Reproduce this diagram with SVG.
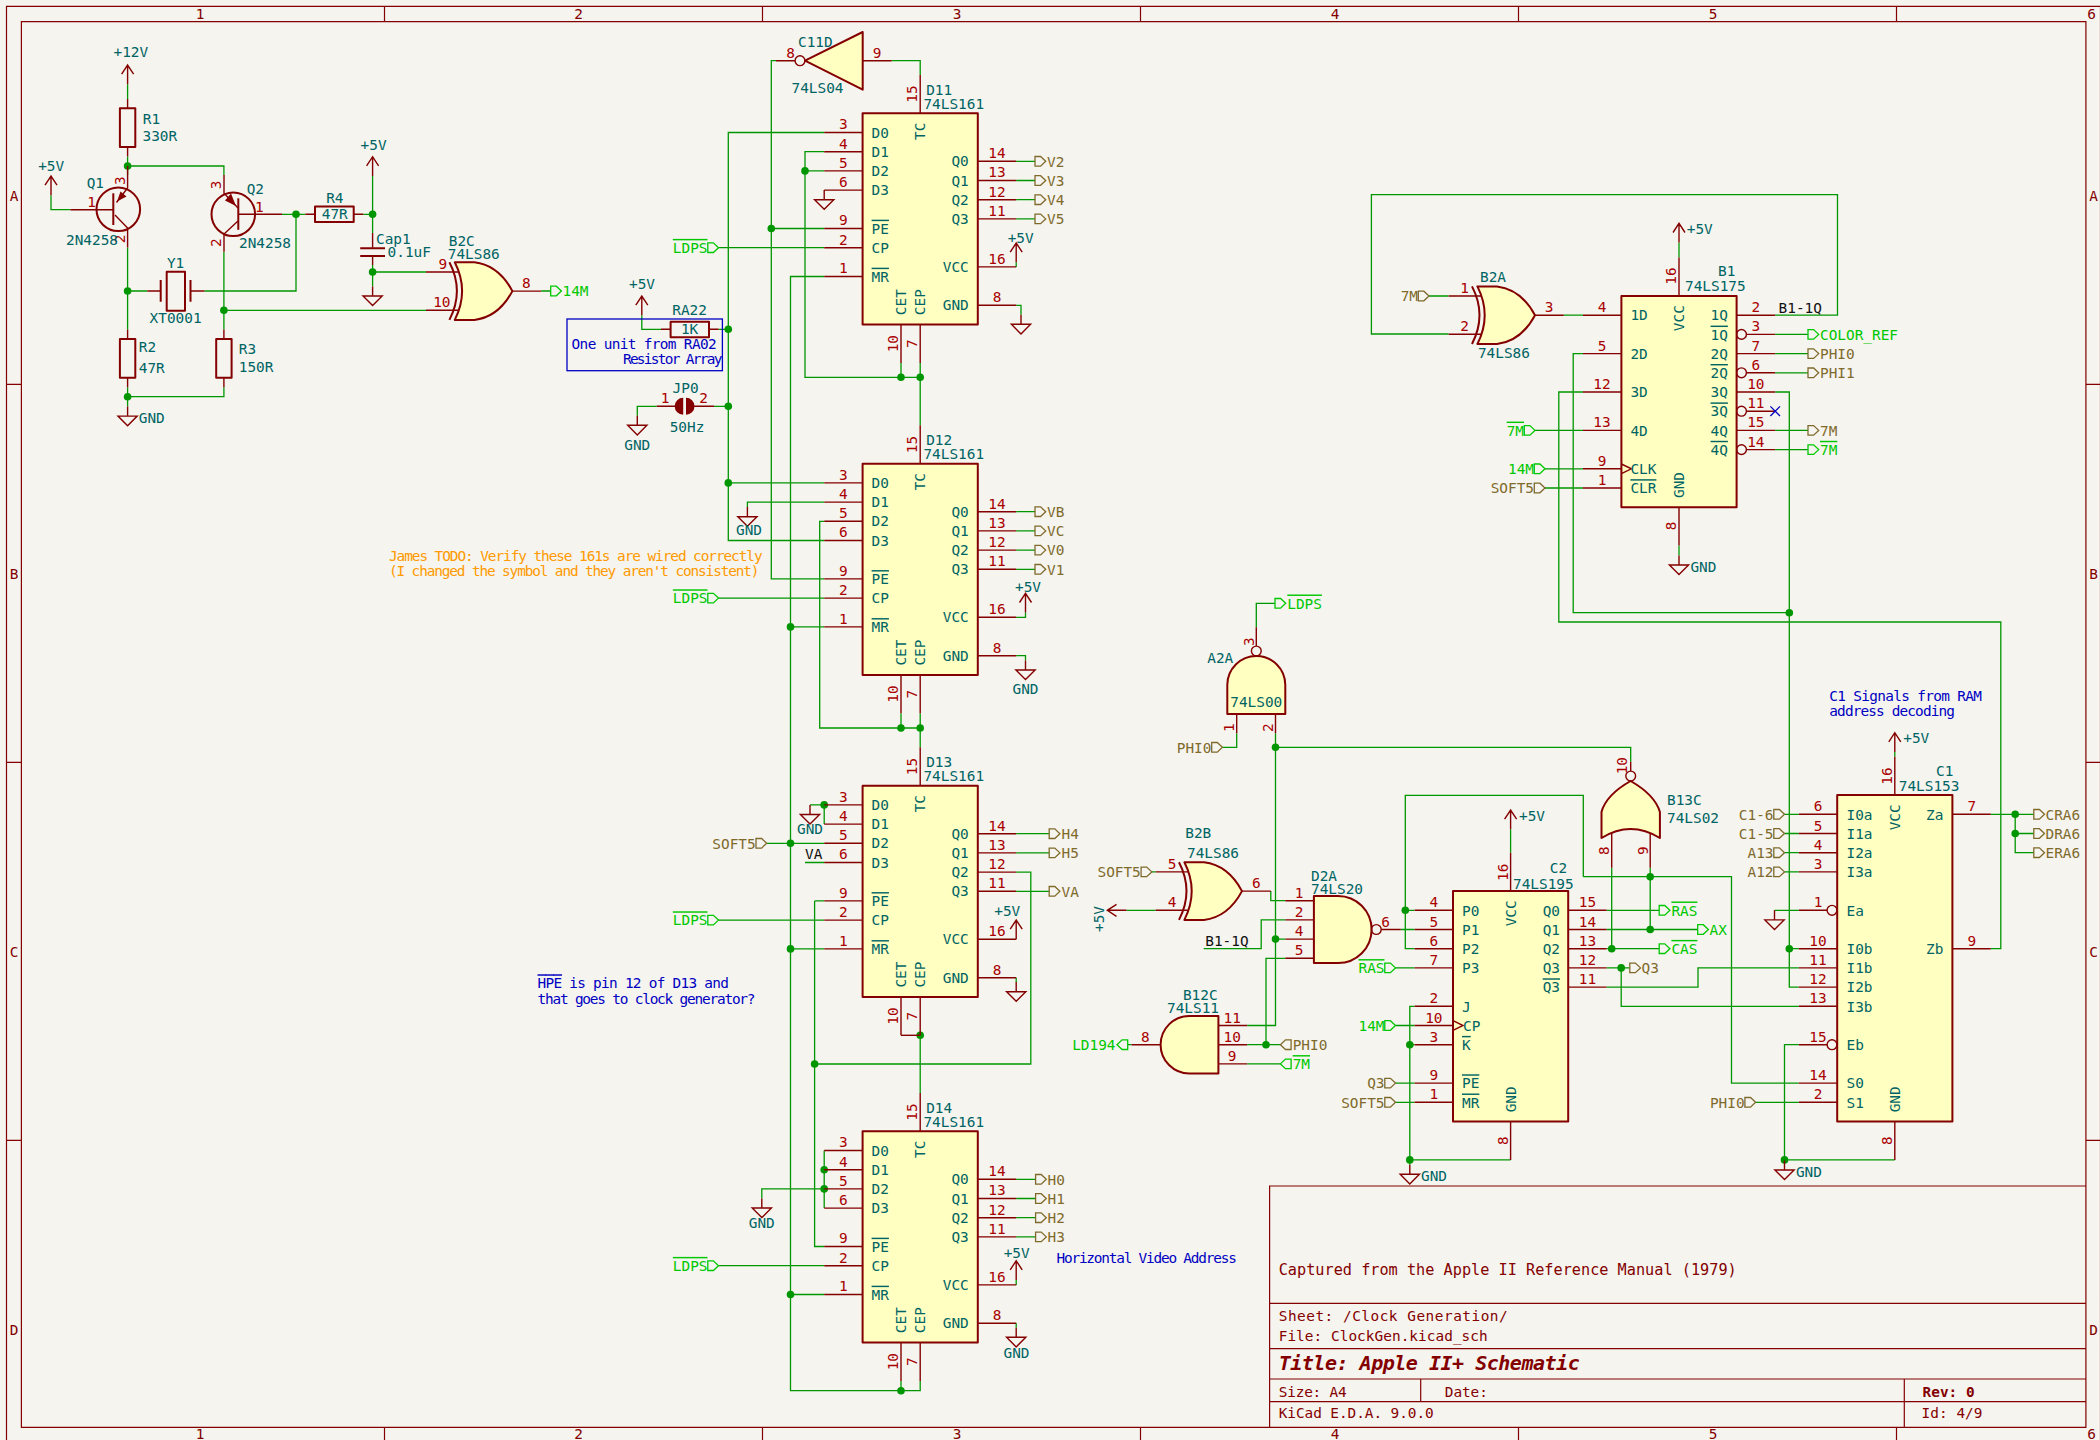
<svg xmlns="http://www.w3.org/2000/svg" xmlns:xlink="http://www.w3.org/1999/xlink" width="2100" height="1440" viewBox="0 0 2100 1440">
<style>
text{font-family:"DejaVu Sans Mono","Liberation Mono",monospace;font-size:14.4px}
.f{fill:none;stroke:#840000;stroke-width:1.2}
.ft{fill:#840000}
.ft2{fill:#840000;font-size:15.2px}
.bd{font-weight:bold}
.w{fill:none;stroke:#009600;stroke-width:1.3}
.p{fill:none;stroke:#840000;stroke-width:1.4}
.b{fill:#ffffc2;stroke:#840000;stroke-width:2;stroke-linejoin:round}
.rb{fill:none;stroke:#840000;stroke-width:2;stroke-linejoin:round}
.l{fill:none;stroke:#840000;stroke-width:2}
.n{fill:#a90000;text-anchor:middle}
.c{fill:#006464}
.m{fill:#006464;text-anchor:middle}
.e{fill:#006464;text-anchor:end}
.s{fill:#006464}
.gt{fill:#00c800}
.gl{fill:none;stroke:#00c800;stroke-width:1.3}
.bt{fill:#7f6a2c}
.bl{fill:none;stroke:#7f6a2c;stroke-width:1.3}
.k{fill:#111}
.note{fill:#0000c2}
.or{fill:#ff9a00}
.o{text-decoration:overline}
</style>
<defs>
<circle id="j" r="3.8" fill="#009600"/>
<path id="gnd" class="p" d="M0,0V9.6M-9.6,9.6H9.6L0,19.2Z"/>
<path id="pw" class="p" d="M0,0V-19.2M-6,-10L0,-19.2L6,-10"/>
<path id="lb" d="M0,-4.8H5.6L10.7,0L5.6,4.8H0Z"/>
<path id="u161p" class="p" d="M-38.4,19.2H0M-38.4,38.4H0M-38.4,57.6H0M-38.4,76.8H0M-38.4,115.2H0M-38.4,134.4H0M-38.4,163.2H0M115.2,48H153.6M115.2,67.2H153.6M115.2,86.4H153.6M115.2,105.6H153.6M115.2,153.6H153.6M115.2,192H153.6M57.6,0V-38.4M38.4,211.2V249.6M57.6,211.2V249.6"/>
<rect id="u161b" class="b" width="115.2" height="211.2"/>
<g id="xor"><path class="b" d="M-57.6,-28.8H-38Q-14,-26 0,0Q-14,26 -38,28.8H-57.6Q-43,0 -57.6,-28.8Z"/><path class="l" d="M-63,-28.8Q-48,0 -63,28.8"/></g>
<path id="res" class="rb" d="M-7.7,-19.35H7.7V19.35H-7.7Z"/>
</defs>
<rect width="2100" height="1440" fill="#f5f4ef"/>
<g id="frame">
<path class="f" d="M6.5,6.3H2100.5V1442H6.5ZM21.4,21.7H2085.9V1427.4H21.4ZM384.5,6.3V21.7M762.5,6.3V21.7M1140.5,6.3V21.7M1518.5,6.3V21.7M1896.5,6.3V21.7M384.5,1427.4V1442M762.5,1427.4V1442M1140.5,1427.4V1442M1518.5,1427.4V1442M1896.5,1427.4V1442M6.5,384.3H21.4M6.5,762.3H21.4M6.5,1140.3H21.4M2085.9,384.3H2100.5M2085.9,762.3H2100.5M2085.9,1140.3H2100.5M1269.6,1427.4V1186H2085.9M1269.6,1303.3H2085.9M1269.6,1348.7H2085.9M1269.6,1379H2085.9M1269.6,1401.7H2085.9M1420.7,1379V1401.7M1904.3,1379V1427.4"/>
<g class="ft" text-anchor="middle">
<text x="200" y="18.6">1</text><text x="578.6" y="18.6">2</text><text x="957" y="18.6">3</text><text x="1335" y="18.6">4</text><text x="1713" y="18.6">5</text><text x="2091.7" y="18.6">6</text>
<text x="200" y="1439">1</text><text x="578.6" y="1439">2</text><text x="957" y="1439">3</text><text x="1335" y="1439">4</text><text x="1713" y="1439">5</text><text x="2091.7" y="1439">6</text>
<text x="14" y="200.5">A</text><text x="14" y="578.5">B</text><text x="14" y="956.5">C</text><text x="14" y="1334.5">D</text>
<text x="2093.5" y="200.5">A</text><text x="2093.5" y="578.5">B</text><text x="2093.5" y="956.5">C</text><text x="2093.5" y="1334.5">D</text>
</g>
<g class="ft">
<text class="ft2" x="1278.7" y="1275" textLength="458">Captured from the Apple II Reference Manual (1979)</text>
<text x="1278.7" y="1320.7" textLength="229">Sheet: /Clock Generation/</text>
<text x="1278.7" y="1341" textLength="209">File: ClockGen.kicad_sch</text>
<text class="bd" style="font-size:20px;font-style:italic" x="1278.7" y="1370" textLength="301">Title: Apple II+ Schematic</text>
<text x="1278.7" y="1396.7" textLength="68">Size: A4</text>
<text x="1444.8" y="1396.7" textLength="43">Date:</text>
<text class="bd" x="1922.6" y="1396.7" textLength="52">Rev: 0</text>
<text x="1278.7" y="1418.3" textLength="155">KiCad E.D.A. 9.0.0</text>
<text x="1921.5" y="1418.3" textLength="61">Id: 4/9</text>
</g>
</g>
<g id="connectors">
<path class="w" d="M127.6,84.2V99M127.6,156.5V175M127.6,166H223.9V175M51,195.2V209.7H70.4M127.6,247.5V329.4M127.6,291H147.3M127.6,387.3V406.5M127.6,396.7H223.9V387.3M223.9,251.7V329.4M204.5,291H296V214.3M282,214.3H305.4M363.3,214.3H372.6V233M372.6,175.9V214.3M372.6,265V286.4M372.6,272H426M223.9,310.3H426M541.2,291H550.7"/>
<path class="w" d="M641.8,315.2V329.3H661M718.6,329.3H728.3M656.7,406.3H637.3V415.7M714,406.3H728.3"/>
<path class="w" d="M824.2,132.5H728.3V540.5H824.2M728.3,482.9H824.2M776,60.7H771.3V578.9H824.2M771.3,228.5H824.2M891.7,60.7H920.2V74.9M824.2,151.7H805V377.3H920.2M805,170.9H824.2M920.2,362.9V425.3M901,362.9V377.3"/>
<path class="w" d="M718.5,247.7H824.2M718.5,598.1H824.2M718.5,920.1H824.2M718.5,1265.7H824.2M824.2,276.5H790.5V1390.7H920.2V1380.9M790.5,626.9H824.2M790.5,948.9H824.2M790.5,1294.5H824.2M766.7,843.3H824.2M901,1380.9V1390.7M824.2,521.3H819.7V728H920.2M901,713.3V728M920.2,713.3V747.3M824.2,502.1H747.4V507.1M824.2,804.9H810M824.2,804.9V824.1M824.2,862.5H805M920.2,1035.3V1092.9M1016.2,872.1H1030.8V1064H814.6M814.6,900.9V1246.5H824.2M814.6,900.9H824.2M824.2,1150.5V1208.1M824.2,1188.9H761.8V1198.4"/>
<path class="w" d="M1016.2,161.3H1035M1016.2,180.5H1035M1016.2,199.7H1035M1016.2,218.9H1035M1016.2,266.9V262.2M1016.2,305.3H1021V314.7M1016.2,511.7H1035M1016.2,530.9H1035M1016.2,550.1H1035M1016.2,569.3H1035M1016.2,617.3H1025.5V612.5M1016.2,655.7H1025.5V660.4M1016.2,833.7H1049.2M1016.2,852.9H1049.2M1016.2,891.3H1049.2M1016.2,977.7V982.1M1016.2,1179.3H1035.6M1016.2,1198.5H1035.6M1016.2,1217.7H1035.6M1016.2,1236.9H1035.6M1016.2,1284.9V1279.9M1016.2,1323.3V1327.7"/>
<path class="w" d="M1775.2,315.2H1837.5V194.7H1371.4V334H1448.6M1563.8,315.2H1583M1429,296H1448.6M1535,430.4H1583M1545,468.8H1583M1545,488H1583M1583,353.6H1573.2V612.7H1789.3M1583,392H1558.8V622H2000.8V948.7H1990.8M1775.2,392H1789.3V987.1H1798.8M1789.3,948.7H1798.8M1775.2,334.4H1808M1775.2,353.6H1808M1775.2,372.8H1808M1775.2,430.4H1808M1775.2,449.6H1808M1679,242.5V257.6M1679,545.6V555.4"/>
<path class="w" d="M1256.3,627.3V603.3H1275M1236.7,733.2V747.3H1222.4M1275.5,733.2V1025.5H1247.2M1275.5,747.3H1630.7V761.7M1275.5,939.1H1285.3M1285.3,900.7H1270.8V891.1M1285.3,919.9H1261.2V948.7H1203.7M1285.3,958.3H1266V1044.7M1151.8,871.9H1155.6M1126.5,910.3H1155.6M1400.8,929.5H1414.6M1247.2,1044.7H1280.4M1247.2,1063.9H1280.4M1127.7,1044.7H1131.6"/>
<path class="w" d="M1395.5,967.9H1414.6M1395.5,1025.5H1414.6M1395.5,1083.1H1414.6M1395.5,1102.3H1414.6M1650.2,867.7V929.5M1583.3,876.7H1731.5V1083.1H1798.8M1583.3,876.7V795.3H1405.3V948.7H1414.6M1405.3,910.3H1414.6M1611.7,867.7V948.7M1606.6,910.3H1659.2M1606.6,929.5H1697.7M1606.6,948.7H1659.2M1606.6,967.9H1629.8M1621.2,967.9V1006.3H1798.8M1606.6,987.1H1698V967.9H1798.8M1510.6,1159.9H1409.8V1006.3H1414.6M1409.8,1044.7H1414.6M1409.8,1159.9V1164.7M1510.6,829.2V852.7"/>
<path class="w" d="M1894.8,1159.9H1784.5V1044.7H1798.8M1784.5,1159.9V1160.4M1798.8,910.3H1774.5M1990.8,814.3H2033.8M2015.2,814.3V852.7H2033.8M2015.2,833.5H2033.8M1784.5,814.3H1798.8M1784.5,833.5H1798.8M1784.5,852.7H1798.8M1784.5,871.9H1798.8M1755.6,1102.3H1798.8M1894.8,751.9V756.7"/>
<g id="junctions">
<use href="#j" x="127.6" y="166"/><use href="#j" x="127.6" y="291"/><use href="#j" x="127.6" y="396.7"/><use href="#j" x="223.9" y="310.3"/><use href="#j" x="296" y="214.3"/><use href="#j" x="372.6" y="214.3"/><use href="#j" x="372.6" y="272"/><use href="#j" x="728.3" y="329.3"/><use href="#j" x="728.3" y="406.3"/><use href="#j" x="728.3" y="482.9"/><use href="#j" x="771.3" y="228.5"/><use href="#j" x="805" y="170.9"/><use href="#j" x="901" y="377.3"/><use href="#j" x="920.2" y="377.3"/><use href="#j" x="901" y="728"/><use href="#j" x="920.2" y="728"/><use href="#j" x="790.5" y="626.9"/><use href="#j" x="790.5" y="843.3"/><use href="#j" x="790.5" y="948.9"/><use href="#j" x="790.5" y="1294.5"/><use href="#j" x="824.2" y="804.9"/><use href="#j" x="920.2" y="1035.3"/><use href="#j" x="814.6" y="1064"/><use href="#j" x="824.2" y="1169.7"/><use href="#j" x="824.2" y="1188.9"/><use href="#j" x="901" y="1390.7"/>
<use href="#j" x="1789.3" y="612.7"/><use href="#j" x="1789.3" y="948.7"/><use href="#j" x="1275.5" y="747.3"/><use href="#j" x="1275.5" y="939.1"/><use href="#j" x="1266" y="1044.7"/><use href="#j" x="1405.3" y="910.3"/><use href="#j" x="1650.2" y="876.7"/><use href="#j" x="1650.2" y="929.5"/><use href="#j" x="1611.7" y="948.7"/><use href="#j" x="1621.2" y="967.9"/><use href="#j" x="1409.8" y="1044.7"/><use href="#j" x="1409.8" y="1159.9"/><use href="#j" x="1784.5" y="1159.9"/><use href="#j" x="2015.2" y="814.3"/><use href="#j" x="2015.2" y="833.5"/>
</g>
</g>
<g id="R1"><path class="p" d="M127.6,99V108.3M127.6,147V156.5"/><use href="#res" x="127.6" y="127.65"/><text class="c" x="142.8" y="123.7">R1</text><text class="c" x="142.5" y="141.3">330R</text></g>
<g id="R2"><path class="p" d="M127.6,329.4V339M127.6,377.7V387.3"/><use href="#res" x="127.6" y="358.35"/><text class="c" x="138.8" y="352">R2</text><text class="c" x="138.8" y="372.7">47R</text></g>
<g id="R3"><path class="p" d="M223.9,329.4V339M223.9,377.7V387.3"/><use href="#res" x="223.9" y="358.35"/><text class="c" x="238.8" y="354">R3</text><text class="c" x="238.8" y="371.7">150R</text></g>
<g id="R4"><path class="p" d="M305.4,214.3H315M353.7,214.3H363.3"/><path class="rb" d="M315,206.5H353.7V222.1H315Z"/><text class="m" x="334.8" y="203.3">R4</text><text class="m" x="334.8" y="219.3">47R</text></g>
<g id="Q1"><circle class="l" cx="118.3" cy="209.3" r="21.8"/><path class="p" d="M70.4,209.7H113.3M116.5,202.5L127.6,188V166M115,215L127.6,228V247.5"/><path class="l" d="M113.3,193.3V225"/><path fill="#840000" d="M117,201.5L120.5,191.5L126.5,196.5Z"/><text class="n" x="91.7" y="206.7">1</text><text class="n" transform="translate(125,180.7) rotate(-90)">3</text><text class="n" transform="translate(124.5,239) rotate(-90)">2</text><text class="c" x="86.7" y="187.7">Q1</text><text class="c" x="66" y="245">2N4258</text></g>
<g id="Q2"><circle class="l" cx="233.3" cy="214.3" r="21.8"/><path class="p" d="M282,214.3H238.3M224,175V193.3L238,208M224,251.7V234L238,221"/><path class="l" d="M238.3,198.3V229.8"/><path fill="#840000" d="M236,206L225,200.5L231,193.5Z"/><text class="n" x="259.3" y="211.7">1</text><text class="n" transform="translate(221,185) rotate(-90)">3</text><text class="n" transform="translate(221,242.7) rotate(-90)">2</text><text class="c" x="246.7" y="194.3">Q2</text><text class="c" x="239" y="247.7">2N4258</text></g>
<g id="Y1"><path class="p" d="M147.3,291H160.7M190.5,291H204.5"/><rect class="rb" x="166.7" y="271.7" width="18.3" height="39"/><path class="l" d="M160.7,280V301.7M190.5,280V301.7"/><text class="m" x="175.6" y="267.7">Y1</text><text class="m" x="175.6" y="322.7">XT0001</text></g>
<g id="Cap1"><path class="p" d="M372.6,233V248.3M372.6,256V265"/><path class="l" d="M360.2,248.3H385M360.2,256H385"/><text class="c" x="376" y="244.3">Cap1</text><text class="c" x="387.6" y="257.3">0.1uF</text></g>
<g id="pwr-left">
<use href="#pw" x="127.6" y="84.2"/><text class="m" x="130.8" y="56.7">+12V</text>
<use href="#pw" x="51" y="195.2"/><text class="m" x="51.2" y="170.7">+5V</text>
<use href="#pw" x="372.6" y="175.9"/><text class="m" x="373.6" y="150">+5V</text>
<use href="#pw" x="641.8" y="315.2"/><text class="m" x="642" y="289">+5V</text>
<use href="#gnd" x="127.6" y="406.5"/><text class="c" x="138.8" y="422.7">GND</text>
<use href="#gnd" x="372.6" y="286.4"/>
<use href="#gnd" x="637.3" y="415.7"/><text class="m" x="637.3" y="450">GND</text>
</g>
<g id="B2C"><path class="p" d="M426,272H458M426,310.3H458M512.4,291.1H541.2"/><use href="#xor" x="512.4" y="291.1"/><text class="n" x="442.8" y="269">9</text><text class="n" x="441.8" y="307.3">10</text><text class="n" x="526.4" y="288">8</text><text class="c" x="448.8" y="245.7">B2C</text><text class="c" x="447.8" y="259.3">74LS86</text></g>
<g id="RA22"><path class="p" d="M661,329.3H670.6M709,329.3H718.6"/><path class="rb" d="M670.6,321.7H709V337.3H670.6Z"/><text class="m" x="689.6" y="315">RA22</text><text class="m" x="689.6" y="334">1K</text></g>
<g id="note-ra02"><rect x="567" y="319" width="155.4" height="51.7" fill="none" stroke="#0000c2" stroke-width="1.3"/><text class="note" x="571.6" y="349" textLength="145">One unit from RA02</text><text class="note" x="622.9" y="364.3" textLength="99.5">Resistor Array</text></g>
<g id="JP0"><path class="p" d="M656.7,406.3H675M694,406.3H714"/><path fill="#840000" d="M683.2,397.8A8.5,8.5 0 0 0 683.2,414.8ZM686,397.8A8.5,8.5 0 0 1 686,414.8Z"/><text class="n" x="665" y="403.3">1</text><text class="n" x="703.5" y="403.3">2</text><text class="m" x="685.6" y="393.3">JP0</text><text class="m" x="687" y="432.3">50Hz</text></g>
<g id="C11D"><path class="p" d="M776,60.7H795M862.7,60.7H891.7"/><path class="b" d="M862.7,32V89.7L805,60.7Z"/><circle class="p" cx="800" cy="60.7" r="4.9" fill="#f5f4ef"/><text class="n" x="790.5" y="58">8</text><text class="n" x="877" y="58">9</text><text class="c" x="798" y="47">C11D</text><text class="c" x="791.5" y="93">74LS04</text></g>
<g id="D11" transform="translate(862.6,113.3)"><use href="#u161p"/><use href="#u161b"/><text class="c" x="63.6" y="-18.6">D11</text><text class="c" x="60.8" y="-4.3">74LS161</text>
<text class="s" x="9" y="24.4">D0</text><text class="s" x="9" y="43.6">D1</text><text class="s" x="9" y="62.8">D2</text><text class="s" x="9" y="82">D3</text><text class="s o" x="9" y="120.4">PE</text><text class="s" x="9" y="139.6">CP</text><text class="s o" x="9" y="168.4">MR</text>
<text class="e" x="106.2" y="53.2">Q0</text><text class="e" x="106.2" y="72.4">Q1</text><text class="e" x="106.2" y="91.6">Q2</text><text class="e" x="106.2" y="110.8">Q3</text><text class="e" x="106.2" y="158.8">VCC</text><text class="e" x="106.2" y="197.2">GND</text>
<text class="e" transform="translate(62.8,9.3) rotate(-90)">TC</text><text class="s" transform="translate(43.6,201.9) rotate(-90)">CET</text><text class="s" transform="translate(62.8,201.9) rotate(-90)">CEP</text>
<text class="n" x="-19.2" y="16.2">3</text><text class="n" x="-19.2" y="35.4">4</text><text class="n" x="-19.2" y="54.6">5</text><text class="n" x="-19.2" y="73.8">6</text><text class="n" x="-19.2" y="112.2">9</text><text class="n" x="-19.2" y="131.4">2</text><text class="n" x="-19.2" y="160.2">1</text>
<text class="n" x="134.4" y="45">14</text><text class="n" x="134.4" y="64.2">13</text><text class="n" x="134.4" y="83.4">12</text><text class="n" x="134.4" y="102.6">11</text><text class="n" x="134.4" y="150.6">16</text><text class="n" x="134.4" y="189">8</text>
<text class="n" transform="translate(54.6,-19.2) rotate(-90)">15</text><text class="n" transform="translate(35.4,230.4) rotate(-90)">10</text><text class="n" transform="translate(54.6,230.4) rotate(-90)">7</text></g>
<g id="D12" transform="translate(862.6,463.7)"><use href="#u161p"/><use href="#u161b"/><text class="c" x="63.6" y="-18.6">D12</text><text class="c" x="60.8" y="-4.3">74LS161</text>
<text class="s" x="9" y="24.4">D0</text><text class="s" x="9" y="43.6">D1</text><text class="s" x="9" y="62.8">D2</text><text class="s" x="9" y="82">D3</text><text class="s o" x="9" y="120.4">PE</text><text class="s" x="9" y="139.6">CP</text><text class="s o" x="9" y="168.4">MR</text>
<text class="e" x="106.2" y="53.2">Q0</text><text class="e" x="106.2" y="72.4">Q1</text><text class="e" x="106.2" y="91.6">Q2</text><text class="e" x="106.2" y="110.8">Q3</text><text class="e" x="106.2" y="158.8">VCC</text><text class="e" x="106.2" y="197.2">GND</text>
<text class="e" transform="translate(62.8,9.3) rotate(-90)">TC</text><text class="s" transform="translate(43.6,201.9) rotate(-90)">CET</text><text class="s" transform="translate(62.8,201.9) rotate(-90)">CEP</text>
<text class="n" x="-19.2" y="16.2">3</text><text class="n" x="-19.2" y="35.4">4</text><text class="n" x="-19.2" y="54.6">5</text><text class="n" x="-19.2" y="73.8">6</text><text class="n" x="-19.2" y="112.2">9</text><text class="n" x="-19.2" y="131.4">2</text><text class="n" x="-19.2" y="160.2">1</text>
<text class="n" x="134.4" y="45">14</text><text class="n" x="134.4" y="64.2">13</text><text class="n" x="134.4" y="83.4">12</text><text class="n" x="134.4" y="102.6">11</text><text class="n" x="134.4" y="150.6">16</text><text class="n" x="134.4" y="189">8</text>
<text class="n" transform="translate(54.6,-19.2) rotate(-90)">15</text><text class="n" transform="translate(35.4,230.4) rotate(-90)">10</text><text class="n" transform="translate(54.6,230.4) rotate(-90)">7</text></g>
<g id="D13" transform="translate(862.6,785.7)"><use href="#u161p"/><use href="#u161b"/><text class="c" x="63.6" y="-18.6">D13</text><text class="c" x="60.8" y="-4.3">74LS161</text>
<text class="s" x="9" y="24.4">D0</text><text class="s" x="9" y="43.6">D1</text><text class="s" x="9" y="62.8">D2</text><text class="s" x="9" y="82">D3</text><text class="s o" x="9" y="120.4">PE</text><text class="s" x="9" y="139.6">CP</text><text class="s o" x="9" y="168.4">MR</text>
<text class="e" x="106.2" y="53.2">Q0</text><text class="e" x="106.2" y="72.4">Q1</text><text class="e" x="106.2" y="91.6">Q2</text><text class="e" x="106.2" y="110.8">Q3</text><text class="e" x="106.2" y="158.8">VCC</text><text class="e" x="106.2" y="197.2">GND</text>
<text class="e" transform="translate(62.8,9.3) rotate(-90)">TC</text><text class="s" transform="translate(43.6,201.9) rotate(-90)">CET</text><text class="s" transform="translate(62.8,201.9) rotate(-90)">CEP</text>
<text class="n" x="-19.2" y="16.2">3</text><text class="n" x="-19.2" y="35.4">4</text><text class="n" x="-19.2" y="54.6">5</text><text class="n" x="-19.2" y="73.8">6</text><text class="n" x="-19.2" y="112.2">9</text><text class="n" x="-19.2" y="131.4">2</text><text class="n" x="-19.2" y="160.2">1</text>
<text class="n" x="134.4" y="45">14</text><text class="n" x="134.4" y="64.2">13</text><text class="n" x="134.4" y="83.4">12</text><text class="n" x="134.4" y="102.6">11</text><text class="n" x="134.4" y="150.6">16</text><text class="n" x="134.4" y="189">8</text>
<text class="n" transform="translate(54.6,-19.2) rotate(-90)">15</text><text class="n" transform="translate(35.4,230.4) rotate(-90)">10</text><text class="n" transform="translate(54.6,230.4) rotate(-90)">7</text><path class="p" d="M38.4,249.6H57.6"/></g>
<g id="D14" transform="translate(862.6,1131.3)"><use href="#u161p"/><use href="#u161b"/><text class="c" x="63.6" y="-18.6">D14</text><text class="c" x="60.8" y="-4.3">74LS161</text>
<text class="s" x="9" y="24.4">D0</text><text class="s" x="9" y="43.6">D1</text><text class="s" x="9" y="62.8">D2</text><text class="s" x="9" y="82">D3</text><text class="s o" x="9" y="120.4">PE</text><text class="s" x="9" y="139.6">CP</text><text class="s o" x="9" y="168.4">MR</text>
<text class="e" x="106.2" y="53.2">Q0</text><text class="e" x="106.2" y="72.4">Q1</text><text class="e" x="106.2" y="91.6">Q2</text><text class="e" x="106.2" y="110.8">Q3</text><text class="e" x="106.2" y="158.8">VCC</text><text class="e" x="106.2" y="197.2">GND</text>
<text class="e" transform="translate(62.8,9.3) rotate(-90)">TC</text><text class="s" transform="translate(43.6,201.9) rotate(-90)">CET</text><text class="s" transform="translate(62.8,201.9) rotate(-90)">CEP</text>
<text class="n" x="-19.2" y="16.2">3</text><text class="n" x="-19.2" y="35.4">4</text><text class="n" x="-19.2" y="54.6">5</text><text class="n" x="-19.2" y="73.8">6</text><text class="n" x="-19.2" y="112.2">9</text><text class="n" x="-19.2" y="131.4">2</text><text class="n" x="-19.2" y="160.2">1</text>
<text class="n" x="134.4" y="45">14</text><text class="n" x="134.4" y="64.2">13</text><text class="n" x="134.4" y="83.4">12</text><text class="n" x="134.4" y="102.6">11</text><text class="n" x="134.4" y="150.6">16</text><text class="n" x="134.4" y="189">8</text>
<text class="n" transform="translate(54.6,-19.2) rotate(-90)">15</text><text class="n" transform="translate(35.4,230.4) rotate(-90)">10</text><text class="n" transform="translate(54.6,230.4) rotate(-90)">7</text></g>
<g id="pwr-161">
<use href="#gnd" x="824.2" y="190.1"/>
<use href="#pw" x="1016.2" y="262.2"/><text class="m" x="1020.7" y="242.5">+5V</text><use href="#gnd" x="1021" y="314.7"/>
<use href="#gnd" x="747.4" y="507.1"/><text class="m" x="749" y="534.7">GND</text>
<use href="#pw" x="1025.5" y="612.5"/><text class="m" x="1028" y="592.3">+5V</text><use href="#gnd" x="1025.5" y="660.4"/><text class="m" x="1025.5" y="694">GND</text>
<use href="#gnd" x="810" y="804.9"/><text class="m" x="810" y="834.3">GND</text>
<use href="#pw" x="1016.2" y="939.2"/><text class="m" x="1007.3" y="915.7">+5V</text><use href="#gnd" x="1016.2" y="982.1"/>
<use href="#gnd" x="761.8" y="1198.4"/><text class="m" x="761.8" y="1228">GND</text>
<use href="#pw" x="1016.2" y="1279.9"/><text class="m" x="1016.7" y="1258">+5V</text><use href="#gnd" x="1016.2" y="1327.7"/><text class="m" x="1016.5" y="1358">GND</text>
</g>
<g id="label-VA-local"><text class="k" x="805" y="859.3">VA</text></g>
<g id="B2A"><path class="p" d="M1448.6,296H1481M1448.6,334.2H1481M1535,315.2H1563.8"/><use href="#xor" x="1535" y="315.2"/><text class="n" x="1464.6" y="293">1</text><text class="n" x="1464.6" y="331">2</text><text class="n" x="1549" y="312.2">3</text><text class="c" x="1480" y="281.7">B2A</text><text class="c" x="1477.9" y="358.3">74LS86</text></g>
<g id="B1"><path class="p" d="M1583,315.2H1621.4M1583,353.6H1621.4M1583,392H1621.4M1583,430.4H1621.4M1583,468.8H1621.4M1583,488H1621.4M1736.6,315.2H1775.2M1746.4,334.4H1775.2M1736.6,353.6H1775.2M1746.4,372.8H1775.2M1736.6,392H1775.2M1746.4,411.2H1775.2M1736.6,430.4H1775.2M1746.4,449.6H1775.2M1679,296V257.6M1679,507.2V545.6"/><rect class="b" x="1621.4" y="296" width="115.2" height="211.2"/><path class="p" d="M1621.4,464L1631.4,468.8L1621.4,473.6"/>
<circle class="p" cx="1741.5" cy="334.4" r="4.9"/><circle class="p" cx="1741.5" cy="372.8" r="4.9"/><circle class="p" cx="1741.5" cy="411.2" r="4.9"/><circle class="p" cx="1741.5" cy="449.6" r="4.9"/>
<text class="c" x="1718" y="276">B1</text><text class="c" x="1685" y="291">74LS175</text>
<text class="s" x="1630.4" y="320.4">1D</text><text class="s" x="1630.4" y="358.8">2D</text><text class="s" x="1630.4" y="397.2">3D</text><text class="s" x="1630.4" y="435.6">4D</text><text class="s" x="1630.4" y="474">CLK</text><text class="s o" x="1630.4" y="493.2">CLR</text>
<text class="e" x="1727.9" y="320.4">1Q</text><text class="e o" x="1727.9" y="339.6">1Q</text><text class="e" x="1727.9" y="358.8">2Q</text><text class="e o" x="1727.9" y="378">2Q</text><text class="e" x="1727.9" y="397.2">3Q</text><text class="e o" x="1727.9" y="416.4">3Q</text><text class="e" x="1727.9" y="435.6">4Q</text><text class="e o" x="1727.9" y="454.8">4Q</text>
<text class="e" transform="translate(1684,305.2) rotate(-90)">VCC</text><text class="s" transform="translate(1684,498) rotate(-90)">GND</text>
<text class="n" x="1602" y="312.2">4</text><text class="n" x="1602" y="350.6">5</text><text class="n" x="1602" y="389">12</text><text class="n" x="1602" y="427.4">13</text><text class="n" x="1602" y="465.8">9</text><text class="n" x="1602" y="485">1</text>
<text class="n" x="1755.8" y="312.2">2</text><text class="n" x="1755.8" y="331.4">3</text><text class="n" x="1755.8" y="350.6">7</text><text class="n" x="1755.8" y="369.8">6</text><text class="n" x="1755.8" y="389">10</text><text class="n" x="1755.8" y="408.2">11</text><text class="n" x="1755.8" y="427.4">15</text><text class="n" x="1755.8" y="446.6">14</text>
<text class="n" transform="translate(1675.7,276) rotate(-90)">16</text><text class="n" transform="translate(1675.7,526) rotate(-90)">8</text>
<use href="#pw" x="1679" y="242.5"/><text class="c" x="1686.8" y="234.3">+5V</text><use href="#gnd" x="1679" y="555.4"/><text class="c" x="1690.4" y="571.7">GND</text>
<path fill="none" stroke="#0000c2" stroke-width="1.3" d="M1770.4,406.4L1780,416M1770.4,416L1780,406.4"/><text class="k" x="1778.6" y="312.7">B1-1Q</text></g>
<g id="A2A"><path class="p" d="M1256.3,646V627.3M1236.7,714V733.2M1275.5,714V733.2"/><path class="b" d="M1227.3,714H1285.3V685A29,29 0 0 0 1227.3,685Z"/><circle class="p" cx="1256.3" cy="651" r="4.9" fill="#f5f4ef"/><text class="n" transform="translate(1253.6,641.7) rotate(-90)">3</text><text class="n" transform="translate(1234.4,727.7) rotate(-90)">1</text><text class="n" transform="translate(1273,727.7) rotate(-90)">2</text><text class="c" x="1207.3" y="662.7">A2A</text><text class="m" x="1256.3" y="706.7">74LS00</text></g>
<g id="B13C"><path class="p" d="M1630.7,761.7V771.2M1611.7,826V867.7M1650.2,826V867.7"/><path class="b" d="M1601.5,838Q1630.6,820 1659.9,838V812Q1655,795 1630.6,781Q1606,795 1601.5,812Z"/><circle class="p" cx="1630.7" cy="776" r="4.9" fill="#f5f4ef"/><text class="n" transform="translate(1627.4,765.7) rotate(-90)">10</text><text class="n" transform="translate(1609,850.7) rotate(-90)">8</text><text class="n" transform="translate(1647.9,850.7) rotate(-90)">9</text><text class="c" x="1667" y="805">B13C</text><text class="c" x="1667" y="823">74LS02</text></g>
<g id="B2B"><path class="p" d="M1155.6,871.9H1188M1155.6,910.3H1188M1242,891.1H1270.8"/><use href="#xor" x="1242" y="891.1"/><text class="n" x="1172.2" y="868.9">5</text><text class="n" x="1172.2" y="907.3">4</text><text class="n" x="1256.3" y="888.1">6</text><text class="c" x="1185.3" y="838.3">B2B</text><text class="c" x="1187" y="857.7">74LS86</text><use href="#pw" transform="translate(1126.5,910.3) rotate(-90)"/><text class="m" transform="translate(1103.8,919) rotate(-90)">+5V</text></g>
<g id="D2A"><path class="p" d="M1285.3,900.7H1313.9M1285.3,919.9H1313.9M1285.3,939.1H1313.9M1285.3,958.3H1313.9M1381.2,929.5H1400.8"/><path class="b" d="M1313.9,895.9H1338A33.6,33.6 0 0 1 1338,963.1H1313.9Z"/><circle class="p" cx="1376.3" cy="929.5" r="4.9" fill="#f5f4ef"/><text class="n" x="1299.2" y="897.7">1</text><text class="n" x="1299.2" y="916.9">2</text><text class="n" x="1299.2" y="936.1">4</text><text class="n" x="1299.2" y="955.3">5</text><text class="n" x="1385.7" y="926.5">6</text><text class="c" x="1311" y="880.7">D2A</text><text class="c" x="1311" y="894">74LS20</text></g>
<g id="B12C"><path class="p" d="M1218.4,1025.5H1247.2M1218.4,1044.7H1247.2M1218.4,1063.9H1247.2M1160.4,1044.7H1131.6"/><path class="b" d="M1218.4,1015.9H1189.4A28.8,28.8 0 0 0 1189.4,1073.5H1218.4Z"/><text class="n" x="1232.2" y="1022.5">11</text><text class="n" x="1232.2" y="1041.7">10</text><text class="n" x="1232.2" y="1060.9">9</text><text class="n" x="1145.3" y="1041.7">8</text><text class="c" x="1182.9" y="1000">B12C</text><text class="c" x="1167" y="1013.3">74LS11</text></g>
<g id="k-B1Q"><text class="k" x="1205.3" y="946">B1-1Q</text></g>
<g id="C2"><path class="p" d="M1414.6,910.3H1453M1414.6,929.5H1453M1414.6,948.7H1453M1414.6,967.9H1453M1414.6,1006.3H1453M1414.6,1025.5H1453M1414.6,1044.7H1453M1414.6,1083.1H1453M1414.6,1102.3H1453M1568.2,910.3H1606.6M1568.2,929.5H1606.6M1568.2,948.7H1606.6M1568.2,967.9H1606.6M1568.2,987.1H1606.6M1510.6,891.1V852.7M1510.6,1121.5V1159.9"/><rect class="b" x="1453" y="891.1" width="115.2" height="230.4"/><path class="p" d="M1453,1020.7L1463,1025.5L1453,1030.3"/>
<text class="c" x="1549.8" y="873.3">C2</text><text class="c" x="1513" y="888.7">74LS195</text>
<text class="s" x="1462" y="915.5">P0</text><text class="s" x="1462" y="934.7">P1</text><text class="s" x="1462" y="953.9">P2</text><text class="s" x="1462" y="973.1">P3</text><text class="s" x="1462" y="1011.5">J</text><text class="s" x="1463" y="1030.7">CP</text><text class="s o" x="1462" y="1049.9">K</text><text class="s o" x="1462" y="1088.3">PE</text><text class="s o" x="1462" y="1107.5">MR</text>
<text class="e" x="1560" y="915.5">Q0</text><text class="e" x="1560" y="934.7">Q1</text><text class="e" x="1560" y="953.9">Q2</text><text class="e" x="1560" y="973.1">Q3</text><text class="e o" x="1560" y="992.3">Q3</text>
<text class="e" transform="translate(1515.6,900.3) rotate(-90)">VCC</text><text class="s" transform="translate(1515.6,1112.3) rotate(-90)">GND</text>
<text class="n" x="1433.8" y="907.3">4</text><text class="n" x="1433.8" y="926.5">5</text><text class="n" x="1433.8" y="945.7">6</text><text class="n" x="1433.8" y="964.9">7</text><text class="n" x="1433.8" y="1003.3">2</text><text class="n" x="1433.8" y="1022.5">10</text><text class="n" x="1433.8" y="1041.7">3</text><text class="n" x="1433.8" y="1080.1">9</text><text class="n" x="1433.8" y="1099.3">1</text>
<text class="n" x="1587.4" y="907.3">15</text><text class="n" x="1587.4" y="926.5">14</text><text class="n" x="1587.4" y="945.7">13</text><text class="n" x="1587.4" y="964.9">12</text><text class="n" x="1587.4" y="984.1">11</text>
<text class="n" transform="translate(1507.9,872.3) rotate(-90)">16</text><text class="n" transform="translate(1507.9,1140.7) rotate(-90)">8</text>
<use href="#pw" x="1510.6" y="829.2"/><text class="c" x="1519" y="820.7">+5V</text><use href="#gnd" x="1409.8" y="1164.7"/><text class="c" x="1421" y="1181.3">GND</text></g>
<g id="C1"><path class="p" d="M1798.8,814.3H1837.2M1798.8,833.5H1837.2M1798.8,852.7H1837.2M1798.8,871.9H1837.2M1798.8,910.3H1827M1798.8,948.7H1837.2M1798.8,967.9H1837.2M1798.8,987.1H1837.2M1798.8,1006.3H1837.2M1798.8,1044.7H1827M1798.8,1083.1H1837.2M1798.8,1102.3H1837.2M1952.4,814.3H1990.8M1952.4,948.7H1990.8M1894.8,795.1V756.7M1894.8,1121.5V1159.9"/><rect class="b" x="1837.2" y="795.1" width="115.2" height="326.4"/><circle class="p" cx="1832" cy="910.3" r="4.9" fill="#f5f4ef"/><circle class="p" cx="1832" cy="1044.7" r="4.9" fill="#f5f4ef"/>
<text class="c" x="1936" y="775.7">C1</text><text class="c" x="1898.8" y="790.7">74LS153</text>
<text class="s" x="1846.5" y="819.5">I0a</text><text class="s" x="1846.5" y="838.7">I1a</text><text class="s" x="1846.5" y="857.9">I2a</text><text class="s" x="1846.5" y="877.1">I3a</text><text class="s" x="1846.5" y="915.5">Ea</text><text class="s" x="1846.5" y="953.9">I0b</text><text class="s" x="1846.5" y="973.1">I1b</text><text class="s" x="1846.5" y="992.3">I2b</text><text class="s" x="1846.5" y="1011.5">I3b</text><text class="s" x="1846.5" y="1049.9">Eb</text><text class="s" x="1846.5" y="1088.3">S0</text><text class="s" x="1846.5" y="1107.5">S1</text>
<text class="e" x="1943.3" y="819.5">Za</text><text class="e" x="1943.3" y="953.9">Zb</text>
<text class="e" transform="translate(1899.8,804.3) rotate(-90)">VCC</text><text class="s" transform="translate(1899.8,1112.3) rotate(-90)">GND</text>
<text class="n" x="1818" y="811.3">6</text><text class="n" x="1818" y="830.5">5</text><text class="n" x="1818" y="849.7">4</text><text class="n" x="1818" y="868.9">3</text><text class="n" x="1818" y="907.3">1</text><text class="n" x="1818" y="945.7">10</text><text class="n" x="1818" y="964.9">11</text><text class="n" x="1818" y="984.1">12</text><text class="n" x="1818" y="1003.3">13</text><text class="n" x="1818" y="1041.7">15</text><text class="n" x="1818" y="1080.1">14</text><text class="n" x="1818" y="1099.3">2</text>
<text class="n" x="1971.8" y="811.3">7</text><text class="n" x="1971.8" y="945.7">9</text>
<text class="n" transform="translate(1892,776) rotate(-90)">16</text><text class="n" transform="translate(1892,1140.7) rotate(-90)">8</text>
<use href="#pw" x="1894.8" y="751.9"/><text class="c" x="1903.3" y="743.3">+5V</text><use href="#gnd" x="1774.5" y="910.3"/><use href="#gnd" x="1784.5" y="1160.4"/><text class="c" x="1795.9" y="1176.7">GND</text></g>
<g id="labels">
<g id="L-14M"><use href="#lb" class="gl" x="550.7" y="291"/><text class="gt" x="562.5" y="296.2">14M</text></g>
<g id="L-LDPS1"><use href="#lb" class="gl" x="707.8" y="247.7"/><text class="gt o" text-anchor="end" x="707.5" y="252.9">LDPS</text></g>
<g id="L-LDPS2"><use href="#lb" class="gl" x="707.8" y="598.1"/><text class="gt o" text-anchor="end" x="707.5" y="603.3">LDPS</text></g>
<g id="L-LDPS3"><use href="#lb" class="gl" x="707.8" y="920.1"/><text class="gt o" text-anchor="end" x="707.5" y="925.3">LDPS</text></g>
<g id="L-LDPS4"><use href="#lb" class="gl" x="707.8" y="1265.7"/><text class="gt o" text-anchor="end" x="707.5" y="1270.9">LDPS</text></g>
<g id="L-SOFT5a"><use href="#lb" class="bl" x="756" y="843.3"/><text class="bt" text-anchor="end" x="755.7" y="848.5">SOFT5</text></g>
<g id="L-V" class="bt"><use href="#lb" class="bl" x="1035" y="161.3"/><text x="1047" y="166.5">V2</text><use href="#lb" class="bl" x="1035" y="180.5"/><text x="1047" y="185.7">V3</text><use href="#lb" class="bl" x="1035" y="199.7"/><text x="1047" y="204.9">V4</text><use href="#lb" class="bl" x="1035" y="218.9"/><text x="1047" y="224.1">V5</text>
<use href="#lb" class="bl" x="1035" y="511.7"/><text x="1047" y="516.9">VB</text><use href="#lb" class="bl" x="1035" y="530.9"/><text x="1047" y="536.1">VC</text><use href="#lb" class="bl" x="1035" y="550.1"/><text x="1047" y="555.3">V0</text><use href="#lb" class="bl" x="1035" y="569.3"/><text x="1047" y="574.5">V1</text></g>
<g id="L-H" class="bt"><use href="#lb" class="bl" x="1049.2" y="833.7"/><text x="1061.5" y="838.9">H4</text><use href="#lb" class="bl" x="1049.2" y="852.9"/><text x="1061.5" y="858.1">H5</text><use href="#lb" class="bl" x="1049.2" y="891.3"/><text x="1061.5" y="896.5">VA</text>
<use href="#lb" class="bl" x="1035.6" y="1179.3"/><text x="1047.5" y="1184.5">H0</text><use href="#lb" class="bl" x="1035.6" y="1198.5"/><text x="1047.5" y="1203.7">H1</text><use href="#lb" class="bl" x="1035.6" y="1217.7"/><text x="1047.5" y="1222.9">H2</text><use href="#lb" class="bl" x="1035.6" y="1236.9"/><text x="1047.5" y="1242.1">H3</text></g>
<g id="L-B1L"><use href="#lb" class="bl" x="1418.3" y="296"/><text class="bt" text-anchor="end" x="1418" y="301.2">7M</text><use href="#lb" class="gl" x="1524.3" y="430.4"/><text class="gt o" text-anchor="end" x="1524" y="435.6">7M</text><use href="#lb" class="gl" x="1534.3" y="468.8"/><text class="gt" text-anchor="end" x="1534" y="474">14M</text><use href="#lb" class="bl" x="1534.3" y="488"/><text class="bt" text-anchor="end" x="1534" y="493.2">SOFT5</text></g>
<g id="L-B1R"><use href="#lb" class="gl" x="1808" y="334.4"/><text class="gt" x="1820" y="339.6">COLOR_REF</text><use href="#lb" class="bl" x="1808" y="353.6"/><text class="bt" x="1820" y="358.8">PHI0</text><use href="#lb" class="bl" x="1808" y="372.8"/><text class="bt" x="1820" y="378">PHI1</text><use href="#lb" class="bl" x="1808" y="430.4"/><text class="bt" x="1820" y="435.6">7M</text><use href="#lb" class="gl" x="1808" y="449.6"/><text class="gt o" x="1820" y="454.8">7M</text></g>
<g id="L-A2A"><use href="#lb" class="gl" x="1275" y="603.3"/><text class="gt o" x="1287.3" y="608.5">LDPS</text><use href="#lb" class="bl" x="1211.7" y="747.3"/><text class="bt" text-anchor="end" x="1211.4" y="752.5">PHI0</text></g>
<g id="L-B2B"><use href="#lb" class="bl" x="1141.1" y="871.9"/><text class="bt" text-anchor="end" x="1140.8" y="877.1">SOFT5</text></g>
<g id="L-B12C"><use href="#lb" class="bl" transform="translate(1291.1,1044.7) scale(-1,1)"/><text class="bt" x="1292.7" y="1049.9">PHI0</text><use href="#lb" class="gl" transform="translate(1291.1,1063.9) scale(-1,1)"/><text class="gt o" x="1292.7" y="1069.1">7M</text><use href="#lb" class="gl" transform="translate(1127.7,1044.7) scale(-1,1)"/><text class="gt" text-anchor="end" x="1115.5" y="1049.9">LD194</text></g>
<g id="L-C2L"><use href="#lb" class="gl" x="1384.8" y="967.9"/><text class="gt o" text-anchor="end" x="1384.5" y="973.1">RAS</text><use href="#lb" class="gl" x="1384.8" y="1025.5"/><text class="gt" text-anchor="end" x="1384.5" y="1030.7">14M</text><use href="#lb" class="bl" x="1384.8" y="1083.1"/><text class="bt" text-anchor="end" x="1384.5" y="1088.3">Q3</text><use href="#lb" class="bl" x="1384.8" y="1102.3"/><text class="bt" text-anchor="end" x="1384.5" y="1107.5">SOFT5</text></g>
<g id="L-C2R"><use href="#lb" class="gl" x="1659.2" y="910.3"/><text class="gt o" x="1671.4" y="915.5">RAS</text><use href="#lb" class="gl" x="1697.7" y="929.5"/><text class="gt" x="1709.5" y="934.7">AX</text><use href="#lb" class="gl" x="1659.2" y="948.7"/><text class="gt o" x="1671.4" y="953.9">CAS</text><use href="#lb" class="bl" x="1629.8" y="967.9"/><text class="bt" x="1641.5" y="973.1">Q3</text></g>
<g id="L-C1L" class="bt"><use href="#lb" class="bl" x="1773.8" y="814.3"/><text text-anchor="end" x="1773.5" y="819.5">C1-6</text><use href="#lb" class="bl" x="1773.8" y="833.5"/><text text-anchor="end" x="1773.5" y="838.7">C1-5</text><use href="#lb" class="bl" x="1773.8" y="852.7"/><text text-anchor="end" x="1773.5" y="857.9">A13</text><use href="#lb" class="bl" x="1773.8" y="871.9"/><text text-anchor="end" x="1773.5" y="877.1">A12</text><use href="#lb" class="bl" x="1744.9" y="1102.3"/><text text-anchor="end" x="1744.6" y="1107.5">PHI0</text></g>
<g id="L-C1R" class="bt"><use href="#lb" class="bl" x="2033.8" y="814.3"/><text x="2045.5" y="819.5">CRA6</text><use href="#lb" class="bl" x="2033.8" y="833.5"/><text x="2045.5" y="838.7">DRA6</text><use href="#lb" class="bl" x="2033.8" y="852.7"/><text x="2045.5" y="857.9">ERA6</text></g>
</g>
<g id="notes">
<text class="or" x="389" y="560.7" textLength="373.6">James TODO: Verify these 161s are wired correctly</text>
<text class="or" x="389" y="576.3" textLength="370.5">(I changed the symbol and they aren't consistent)</text>
<text class="note" x="537.5" y="988.3" textLength="191.4"><tspan class="o">HPE</tspan> is pin 12 of D13 and</text>
<text class="note" x="537.5" y="1004" textLength="218">that goes to clock generator?</text>
<text class="note" x="1056.5" y="1263" textLength="180.3">Horizontal Video Address</text>
<text class="note" x="1829.3" y="700.7" textLength="152.7">C1 Signals from RAM</text>
<text class="note" x="1829.3" y="716" textLength="125.7">address decoding</text>
</g>
</svg>
